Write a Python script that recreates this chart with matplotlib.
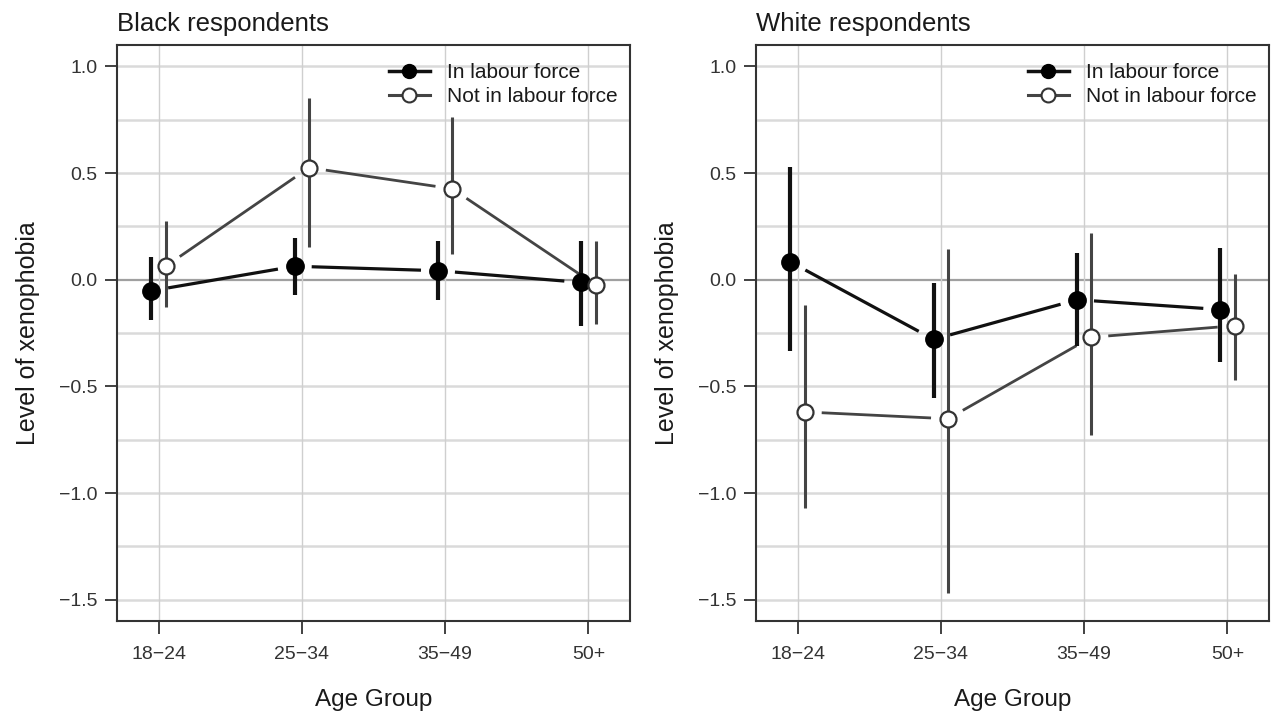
import numpy as np
import matplotlib
matplotlib.use("Agg")
import matplotlib.pyplot as plt
from matplotlib.lines import Line2D

plt.rcParams['font.family'] = ['Liberation Sans', 'DejaVu Sans']

ages = ['18\u221224', '25\u221234', '35\u221249', '50+']

# Black respondents
blk_in = [-0.052, 0.063, 0.042, -0.013]
blk_in_lo = [-0.19, -0.07, -0.094, -0.216]
blk_in_hi = [0.105, 0.196, 0.18, 0.183]
blk_out = [0.063, 0.525, 0.426, -0.025]
blk_out_lo = [-0.13, 0.152, 0.12, -0.208]
blk_out_hi = [0.277, 0.85, 0.763, 0.18]

# White respondents
wht_in = [0.083, -0.28, -0.094, -0.14]
wht_in_lo = [-0.333, -0.555, -0.31, -0.385]
wht_in_hi = [0.53, -0.016, 0.125, 0.148]
wht_out = [-0.62, -0.652, -0.27, -0.216]
wht_out_lo = [-1.07, -1.468, -0.727, -0.47]
wht_out_hi = [-0.117, 0.145, 0.22, 0.028]

DODGE = 0.05
GAP = 17  # pixels between a point and its connecting line


def gapped_line(ax, x, y, **kw):
    # line segments stopping short of each point, like R's type="b"
    to_px = ax.transData
    to_data = ax.transData.inverted()
    for i in range(len(x) - 1):
        p0 = to_px.transform((x[i], y[i]))
        p1 = to_px.transform((x[i + 1], y[i + 1]))
        d = p1 - p0
        u = d / np.hypot(*d)
        a = to_data.transform(p0 + u * GAP)
        b = to_data.transform(p1 - u * GAP)
        ax.plot([a[0], b[0]], [a[1], b[1]], solid_capstyle='butt', **kw)


def panel(ax, title, y_in, lo_in, hi_in, y_out, lo_out, hi_out):
    ax.set_xlim(0.71, 4.29)
    ax.set_ylim(-1.6, 1.1)
    pos = np.arange(1, len(ages) + 1)

    for yy in np.arange(-1.5, 1.01, 0.25):
        if abs(yy) < 1e-9:
            ax.axhline(yy, color='#a0a0a0', lw=1.6, zorder=0)
        else:
            ax.axhline(yy, color='#dadada', lw=1.8, zorder=0)
    for xx in pos:
        ax.axvline(xx, color='#cfcfcf', lw=1.0, zorder=0)

    x_in = pos - DODGE
    x_out = pos + DODGE
    y_in = np.array(y_in)
    y_out = np.array(y_out)

    gapped_line(ax, x_in, y_in, color='#111111', lw=2.3, zorder=2)
    gapped_line(ax, x_out, y_out, color='#444444', lw=2.0, zorder=2)

    ax.errorbar(x_in, y_in, yerr=[y_in - np.array(lo_in), np.array(hi_in) - y_in],
                fmt='none', ecolor='#111111', elinewidth=3.0, capsize=0, zorder=3)
    ax.errorbar(x_out, y_out, yerr=[y_out - np.array(lo_out), np.array(hi_out) - y_out],
                fmt='none', ecolor='#444444', elinewidth=2.2, capsize=0, zorder=3)

    ax.plot(x_in, y_in, 'o', ms=12.5, mfc='black', mec='black', mew=1.0, zorder=4)
    ax.plot(x_out, y_out, 'o', ms=11.5, mfc='white', mec='#333333', mew=1.6, zorder=5)

    ax.set_xticks(pos)
    ax.set_xticklabels(ages)
    ax.set_yticks([-1.5, -1.0, -0.5, 0.0, 0.5, 1.0])
    ax.set_yticklabels(['\u22121.5', '\u22121.0', '\u22120.5', '0.0', '0.5', '1.0'])
    ax.tick_params(axis='both', direction='out', length=9, width=1.3,
                   color='#333333', labelsize=14, labelcolor='#333333', pad=5)
    ax.tick_params(axis='x', pad=9)
    for s in ax.spines.values():
        s.set_color('#333333')
        s.set_linewidth(1.5)

    ax.set_title(title, loc='left', fontsize=18.5, color='#1a1a1a', pad=10)
    ax.set_xlabel('Age Group', fontsize=17.5, color='#1a1a1a', labelpad=19)
    ax.set_ylabel('Level of xenophobia', fontsize=18, color='#1a1a1a', labelpad=14)

    handles = [
        Line2D([0], [0], color='#111111', lw=2.5, marker='o', ms=10,
               mfc='black', mec='black'),
        Line2D([0], [0], color='#444444', lw=2.2, marker='o', ms=10,
               mfc='white', mec='#333333', mew=1.5),
    ]
    ax.legend(handles, ['In labour force', 'Not in labour force'],
              loc='upper right', bbox_to_anchor=(1.0, 0.99), frameon=False,
              fontsize=15, handlelength=2.0, handletextpad=0.8,
              labelspacing=0.25, borderaxespad=0.2, labelcolor='#1a1a1a')


fig = plt.figure(figsize=(12.72, 7.13), dpi=100)
ax1 = fig.add_axes([117 / 1272, 1 - 621 / 713, 513 / 1272, 576 / 713])
ax2 = fig.add_axes([756 / 1272, 1 - 621 / 713, 513 / 1272, 576 / 713])

panel(ax1, 'Black respondents', blk_in, blk_in_lo, blk_in_hi,
      blk_out, blk_out_lo, blk_out_hi)
panel(ax2, 'White respondents', wht_in, wht_in_lo, wht_in_hi,
      wht_out, wht_out_lo, wht_out_hi)

fig.savefig('out.png', dpi=100)
